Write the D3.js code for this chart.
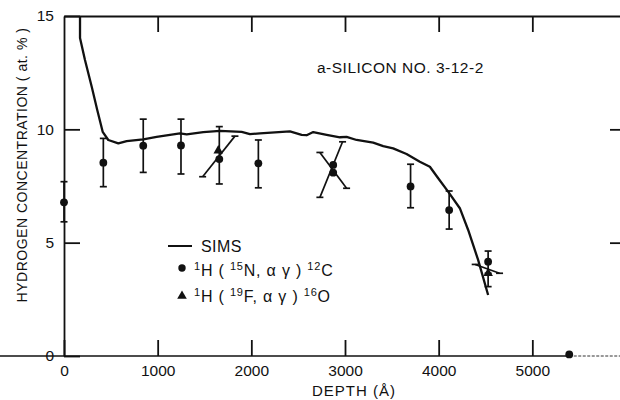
<!DOCTYPE html>
<html>
<head>
<meta charset="utf-8">
<script src="https://cdn.jsdelivr.net/npm/d3@7"></script>
<style>
  body { margin: 0; background: #fff; }
  svg text { font-family: "Liberation Sans", Arial, sans-serif; fill: #111; }
</style>
</head>
<body>
<div id="chart"></div>
<script>
var width = 620;
var height = 400;

// SIMS profile (depth in Angstrom, H concentration in at.%)
var simsDepth = [171, 171, 224, 296, 355, 413, 473, 580, 669, 846, 989, 1238, 1310, 1487, 1665, 1897, 1985, 2092,
                 2412, 2537, 2590, 2661, 2804, 2946, 3017, 3124, 3301, 3408, 3514, 3657, 3799, 3906, 3995, 4101,
                 4226, 4315, 4422, 4528];
var simsConc = [15.6, 14.03, 13.06, 11.88, 10.85, 9.89, 9.53, 9.38, 9.48, 9.56, 9.67, 9.82, 9.78, 9.88, 9.93, 9.89, 9.79, 9.82,
                9.91, 9.76, 9.74, 9.88, 9.76, 9.65, 9.67, 9.53, 9.41, 9.26, 9.16, 8.91, 8.57, 8.35, 7.84, 7.25,
                6.52, 5.56, 4.23, 2.69];

// 1H(15N, alpha gamma)12C points with vertical error bars (null = no bar)
var nDepth = [0, 420, 846, 1249, 1658, 2075, 2874, 2874, 3700, 4112, 4528, 5394];
var nConc  = [6.78, 8.53, 9.28, 9.29, 8.69, 8.50, 8.43, 8.09, 7.48, 6.44, 4.16, 0.07];
var nLow   = [5.92, 7.47, 8.10, 8.03, 7.59, 7.42, null, null, 6.54, 5.60, 3.65, null];
var nHigh  = [7.69, 9.60, 10.45, 10.45, 10.12, 9.53, null, null, 8.46, 7.28, 4.63, null];

// 1H(19F, alpha gamma)16O points
var fDepth = [1647, 4528];
var fConc  = [9.06, 3.65];
var fLow   = [null, 3.06];
var fHigh  = [null, null];

// slanted error bars (start depth/conc -> end depth/conc)
var slantD0 = [1480, 2732, 2732, 4390];
var slantC0 = [7.91, 8.98, 7.00, 4.04];
var slantD1 = [1825, 3017, 2974, 4650];
var slantC1 = [9.70, 7.40, 9.45, 3.65];

var xTicks = [0, 1000, 2000, 3000, 4000, 5000];
var yTicks = [0, 5, 10, 15];

var svg = d3.select("#chart")
    .append("svg")
    .attr("width", width)
    .attr("height", height);

var xScale = d3.scaleLinear().domain([0, 6000]).range([64, 626]);
var yScale = d3.scaleLinear().domain([0, 15]).range([356, 16]);

svg.append("clipPath").attr("id", "plotClip")
    .append("rect")
    .attr("x", 64).attr("y", 16).attr("width", 562).attr("height", 340);

// Axes (ticks point into the frame)
var bottomG = svg.append("g")
    .attr("transform", "translate(0," + yScale(0) + ")")
    .call(d3.axisBottom(xScale).tickValues(xTicks).tickSize(-16).tickSizeOuter(0)
        .tickPadding(9).tickFormat(d3.format("d")));
bottomG.select(".domain").remove();

svg.append("g")
    .attr("transform", "translate(0," + yScale(15) + ")")
    .call(d3.axisTop(xScale).tickValues(xTicks.slice(1)).tickSize(-16).tickSizeOuter(0).tickFormat(""));

svg.append("g")
    .attr("transform", "translate(" + xScale(0) + ",0)")
    .call(d3.axisLeft(yScale).tickValues(yTicks).tickSize(-16).tickSizeOuter(0).tickPadding(10));

svg.append("g")
    .attr("transform", "translate(" + xScale(6000) + ",0)")
    .call(d3.axisRight(yScale).tickValues([5, 10]).tickSize(-16).tickSizeOuter(0).tickFormat(""));

svg.selectAll(".tick line, .domain").attr("stroke", "#111").attr("stroke-width", 1.8);
svg.selectAll(".tick text").attr("font-size", 15.5).attr("fill", "#111")
    .style("font-family", "'Liberation Sans', Arial, sans-serif");

// baseline, running past the left axis, thin and broken past the last point
svg.append("line")
    .attr("x1", 0).attr("x2", xScale(5394))
    .attr("y1", yScale(0)).attr("y2", yScale(0))
    .attr("stroke", "#111").attr("stroke-width", 1.5);
svg.append("line")
    .attr("x1", xScale(5394)).attr("x2", width)
    .attr("y1", yScale(0)).attr("y2", yScale(0))
    .attr("stroke", "#333").attr("stroke-width", 1)
    .attr("stroke-dasharray", "3,1.5");

// SIMS curve
var simsData = simsDepth.map(function(d, i) { return [d, simsConc[i]]; });
svg.append("path")
    .datum(simsData)
    .attr("clip-path", "url(#plotClip)")
    .attr("fill", "none")
    .attr("stroke", "#111")
    .attr("stroke-width", 2.3)
    .attr("stroke-linejoin", "round")
    .attr("d", d3.line()
        .x(function(d) { return xScale(d[0]); })
        .y(function(d) { return yScale(d[1]); }));

var barG = svg.append("g").attr("stroke", "#111").attr("stroke-width", 1.7);
var cap = 3.5;

function vBar(d, lo, hi) {
    var top = hi == null ? d[1] : hi;
    var bot = lo == null ? d[1] : lo;
    barG.append("line")
        .attr("x1", xScale(d[0])).attr("x2", xScale(d[0]))
        .attr("y1", yScale(top)).attr("y2", yScale(bot));
    if (hi != null) {
        barG.append("line").attr("x1", xScale(d[0]) - cap).attr("x2", xScale(d[0]) + cap)
            .attr("y1", yScale(hi)).attr("y2", yScale(hi));
    }
    if (lo != null) {
        barG.append("line").attr("x1", xScale(d[0]) - cap).attr("x2", xScale(d[0]) + cap)
            .attr("y1", yScale(lo)).attr("y2", yScale(lo));
    }
}

nDepth.forEach(function(d, i) {
    if (nLow[i] != null || nHigh[i] != null) vBar([d, nConc[i]], nLow[i], nHigh[i]);
});
fDepth.forEach(function(d, i) {
    if (fLow[i] != null || fHigh[i] != null) vBar([d, fConc[i]], fLow[i], fHigh[i]);
});

slantD0.forEach(function(d, i) {
    var x0 = xScale(d), y0 = yScale(slantC0[i]);
    var x1 = xScale(slantD1[i]), y1 = yScale(slantC1[i]);
    barG.append("line").attr("x1", x0).attr("y1", y0).attr("x2", x1).attr("y2", y1);
    barG.append("line").attr("x1", x0 - cap).attr("x2", x0 + cap).attr("y1", y0).attr("y2", y0);
    barG.append("line").attr("x1", x1 - cap).attr("x2", x1 + cap).attr("y1", y1).attr("y2", y1);
});

// markers
svg.selectAll("circle.n")
    .data(nDepth)
    .enter()
    .append("circle")
    .attr("class", "n")
    .attr("cx", function(d) { return xScale(d); })
    .attr("cy", function(d, i) { return yScale(nConc[i]); })
    .attr("r", 3.9)
    .attr("fill", "#111");

var tri = d3.symbol().type(d3.symbolTriangle).size(40);
svg.selectAll("path.f")
    .data(fDepth)
    .enter()
    .append("path")
    .attr("class", "f")
    .attr("d", tri)
    .attr("transform", function(d, i) { return "translate(" + xScale(d) + "," + yScale(fConc[i]) + ")"; })
    .attr("fill", "#111");

// axis titles
svg.append("text")
    .attr("transform", "translate(27,165) rotate(-90)")
    .attr("text-anchor", "middle")
    .attr("font-size", 14)
    .attr("letter-spacing", 0.5)
    .text("HYDROGEN CONCENTRATION ( at. % )");

svg.append("text")
    .attr("x", 312).attr("y", 396)
    .attr("font-size", 15)
    .attr("letter-spacing", 1)
    .text("DEPTH (Å)");

svg.append("text")
    .attr("x", 317).attr("y", 73)
    .attr("font-size", 15.5)
    .attr("letter-spacing", 0.5)
    .text("a-SILICON NO. 3-12-2");

// legend
var leg = svg.append("g");
leg.append("line")
    .attr("x1", 168).attr("x2", 192).attr("y1", 246).attr("y2", 246)
    .attr("stroke", "#111").attr("stroke-width", 2);
leg.append("text").attr("x", 201).attr("y", 252).attr("font-size", 16).attr("letter-spacing", 0.4).text("SIMS");

leg.append("circle").attr("cx", 182).attr("cy", 268).attr("r", 3.7).attr("fill", "#111");
leg.append("path").attr("d", tri).attr("transform", "translate(182,296)").attr("fill", "#111");

function reaction(y, beam, product) {
    var t = leg.append("text").attr("x", 194).attr("y", y).attr("font-size", 16).attr("letter-spacing", 0.8);
    t.append("tspan").attr("font-size", 11).attr("dy", -6).text("1");
    t.append("tspan").attr("dy", 6).text("H ( ");
    t.append("tspan").attr("font-size", 11).attr("dy", -6).text(beam[0]);
    t.append("tspan").attr("dy", 6).text(beam[1] + ", α γ ) ");
    t.append("tspan").attr("font-size", 11).attr("dy", -6).text(product[0]);
    t.append("tspan").attr("dy", 6).text(product[1]);
}
reaction(276, ["15", "N"], ["12", "C"]);
reaction(302, ["19", "F"], ["16", "O"]);
</script>
</body>
</html>
